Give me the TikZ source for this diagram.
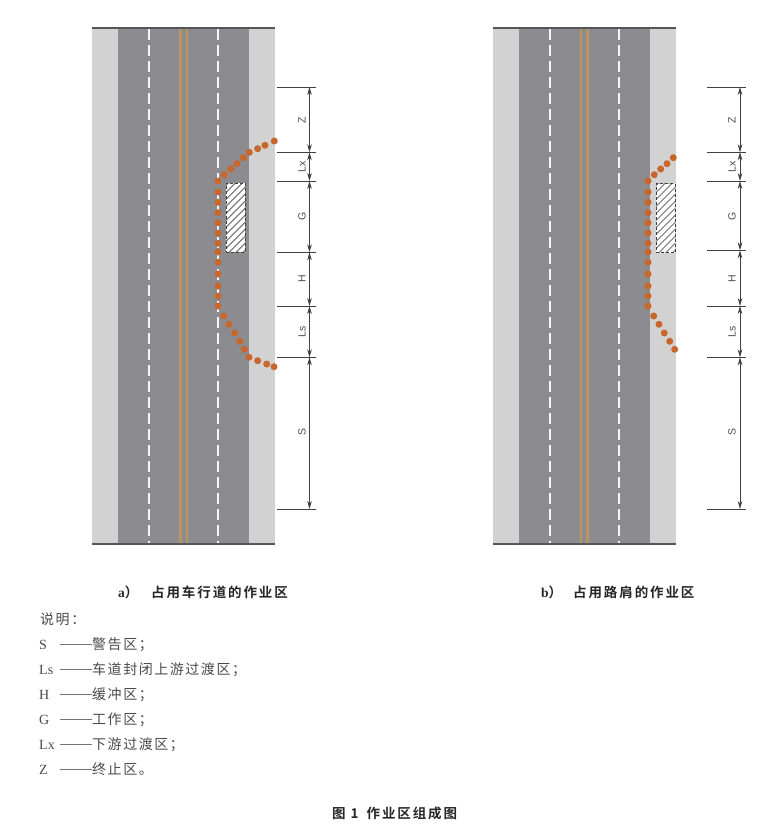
\documentclass[tikz,border=0pt]{standalone}
\usepackage{fontspec}
\setmainfont{Liberation Serif}
\setsansfont{Liberation Sans}
\newfontfamily\cjklight[LetterSpace=11]{Noto Sans CJK SC}
\newfontfamily\cjkbold[LetterSpace=14]{Noto Sans CJK SC Bold}
\usetikzlibrary{arrows.meta}
\definecolor{shouldergray}{HTML}{D2D2D2}
\definecolor{roadgray}{HTML}{8B8B90}
\definecolor{edgegray}{HTML}{55555A}
\definecolor{centeryellow}{HTML}{B8975A}
\definecolor{conedot}{HTML}{C9662C}
\definecolor{dimgray}{HTML}{404040}
\definecolor{legendgray}{HTML}{4A4A4A}
\tikzset{
    roadedge/.style={draw=edgegray, line width=1.2pt},
    lanedash/.style={white!92!roadgray, line width=2pt, dash pattern=on 11pt off 5pt},
    centerline/.style={centeryellow, line width=2.4pt},
    conemark/.style={circle, fill=conedot, inner sep=0pt, minimum size=7pt},
    workzone/.style={rectangle, draw=dimgray, densely dashed, line width=.7pt, inner sep=0pt,
        minimum width=19pt, minimum height=69pt, fill=white,
        path picture={
            \foreach \d in {-49,-42,...,49}
                \draw[black!55, line width=1pt, solid] ([xshift=\d pt]path picture bounding box.center) ++(-45,45) -- ++(90,-90);
        }},
    dimtick/.style={draw=dimgray, line width=.8pt},
    dimline/.style={draw=dimgray, line width=.8pt, {Stealth[length=8pt,width=4.6pt]}-{Stealth[length=8pt,width=4.6pt]}},
    dimlabel/.style={rotate=90, font=\sffamily\fontsize{10.5}{11}\selectfont, text=black!70, inner sep=0pt},
    legendtext/.style={anchor=base west, inner sep=0pt, text=legendgray, font=\fontsize{14}{14}\selectfont},
    captiontext/.style={anchor=base west, inner sep=0pt, text=black!85, font=\fontsize{13.5}{14}\selectfont},
    legendrule/.style={draw=black!55, line width=.7pt}
}
\begin{document}
\begin{tikzpicture}[x=1pt,y=-1pt]
    \useasboundingbox (0,0) rectangle (783,828);
    % both roads
    \foreach \ox in {0,400.5}{
        \begin{scope}[xshift=\ox pt]
            \fill[shouldergray] (92,28) rectangle (275,544);
            \fill[roadgray] (118,28) rectangle (249,544);
            \draw[lanedash] (149,29) -- (149,543);
            \draw[lanedash] (218,29) -- (218,543);
            \draw[centerline] (180.3,28) -- (180.3,544);
            \draw[centerline] (187,28) -- (187,544);
            \draw[roadedge] (92,28) -- (275,28);
            \draw[roadedge] (92,544) -- (275,544);
        \end{scope}
    }
    % work areas
    \node (worka) [workzone] at (235.5,217.8) {};
    \node (workb) [workzone] at (665.5,218) {};
    % cones a)
    \foreach \cx/\cy [count=\i] in {274.3/141,265/145.3,257.7/148.7,249.3/152.3,243.3/157.7,237/163.7,230.7/169,224.3/174.7,
            218/181,218/192,218/202.3,218/212.7,218/222.7,218/233,218/243.3,218/252,218/262.3,218/274,218/286,218/296,218/306,
            223.7/316,229/324.3,234.7/333,239.7/341.3,244.3/349.3,249/357.3,257.7/360.7,266.7/364,274/366.7}
        \node (conea\i) [conemark] at (\cx,\cy) {};
    % cones b)
    \foreach \cx/\cy [count=\i] in {673.3/157.7,667/163.7,660.7/169,654.3/174.7,
            648/181,648/192,648/202.3,648/212.7,648/222.7,648/233,648/243.3,648/252,648/262.3,648/274,648/286,648/296,648/306,
            653.7/316,659/324.3,664.3/333,669.7/341.3,674.7/349.3}
        \node (coneb\i) [conemark] at (\cx,\cy) {};
    % dimensions a)
    \foreach \nm/\ty in {za/87,lxa/152.3,ga/181,ha/252.3,lsa/306,sa/357.3,enda/509}{
        \coordinate (\nm) at (309.5,\ty);
        \coordinate (\nm l) at (276.5,\ty);
        \coordinate (\nm r) at (315.5,\ty);
        \draw[dimtick] (\nm l) -- (\nm r);
    }
    \draw[dimline] (za) -- (lxa);
    \draw[dimline] (lxa) -- (ga);
    \draw[dimline] (ga) -- (ha);
    \draw[dimline] (ha) -- (lsa);
    \draw[dimline] (lsa) -- (sa);
    \draw[dimline] (sa) -- (enda);
    \node (labza) [dimlabel] at (302,120) {Z};
    \node (lablxa) [dimlabel] at (302,167) {Lx};
    \node (labga) [dimlabel] at (302,216) {G};
    \node (labha) [dimlabel] at (302,279) {H};
    \node (lablsa) [dimlabel] at (302,332) {Ls};
    \node (labsa) [dimlabel] at (302,432) {S};
    % dimensions b)
    \foreach \nm/\ty in {zb/87,lxb/152.3,gb/181,hb/250.3,lsb/306,sb/357.3,endb/509}{
        \coordinate (\nm) at (740,\ty);
        \coordinate (\nm l) at (706.5,\ty);
        \coordinate (\nm r) at (745.5,\ty);
        \draw[dimtick] (\nm l) -- (\nm r);
    }
    \draw[dimline] (zb) -- (lxb);
    \draw[dimline] (lxb) -- (gb);
    \draw[dimline] (gb) -- (hb);
    \draw[dimline] (hb) -- (lsb);
    \draw[dimline] (lsb) -- (sb);
    \draw[dimline] (sb) -- (endb);
    \node (labzb) [dimlabel] at (732,120) {Z};
    \node (lablxb) [dimlabel] at (732,167) {Lx};
    \node (labgb) [dimlabel] at (732,216) {G};
    \node (labhb) [dimlabel] at (732,279) {H};
    \node (lablsb) [dimlabel] at (732,332) {Ls};
    \node (labsb) [dimlabel] at (732,432) {S};
    % captions
    \node (capa) [captiontext] at (118,597) {\textbf{a}{\cjkbold ）}};
    \node (capatext) [captiontext] at (151,597) {\cjkbold 占用车行道的作业区};
    \node (capb) [captiontext] at (541,597) {\textbf{b}{\cjkbold ）}};
    \node (capbtext) [captiontext] at (573,597) {\cjkbold 占用路肩的作业区};
    \node (capmain) [captiontext] at (332,818) {\cjkbold 图 1\hspace{8pt}作业区组成图};
    % legend
    \node (legtitle) [legendtext] at (40,624) {\cjklight 说明：};
    \foreach \nm/\sym/\ty/\txt in {s/S/649/警告区；,ls/Ls/674/车道封闭上游过渡区；,h/H/699/缓冲区；,
            g/G/724/工作区；,lx/Lx/749/下游过渡区；,z/Z/774/终止区。}{
        \node (legsym\nm) [legendtext] at (39,\ty) {\sym};
        \node (legtxt\nm) [legendtext] at (92,\ty) {\cjklight\txt};
        \coordinate (legrule\nm) at (60,\ty-5);
        \draw[legendrule] (legrule\nm) -- (legtxt\nm.west |- legrule\nm);
    }
\end{tikzpicture}
\end{document}
